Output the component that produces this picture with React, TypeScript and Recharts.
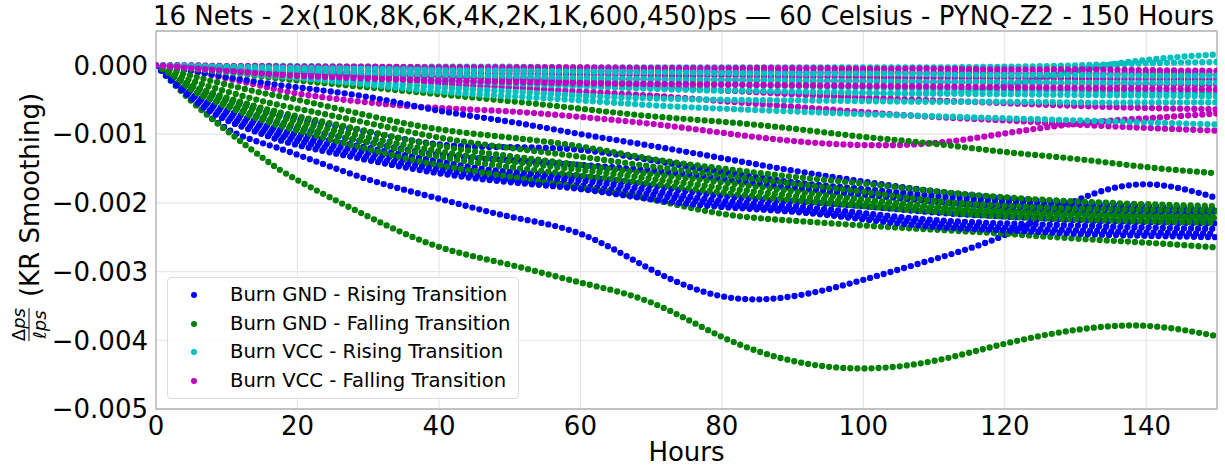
import { LineChart, Line, XAxis, YAxis, CartesianGrid, ReferenceArea } from 'recharts'

// sample hours, values below are in units of 1e-3 (Δps / ℓps)
const HOURS = [0, 5, 10, 15, 20, 30, 40, 50, 60, 70, 80, 90, 100, 110, 120, 130, 140, 150]

const GND_RISE = [
  [0, -0.5, -0.92, -1.13, -1.3, -1.66, -1.94, -2.2, -2.45, -2.97, -3.36, -3.36, -3.12, -2.82, -2.47, -1.97, -1.73, -1.93],
  [0, -0.08, -0.17, -0.25, -0.32, -0.46, -0.66, -0.82, -1.0, -1.17, -1.35, -1.53, -1.69, -1.83, -1.93, -2.0, -2.05, -2.1],
  [0, -0.3, -0.5, -0.66, -0.78, -0.97, -1.15, -1.19, -1.23, -1.38, -1.55, -1.7, -1.8, -1.9, -1.98, -2.05, -2.1, -2.13],
  [0, -0.35, -0.58, -0.77, -0.92, -1.12, -1.3, -1.38, -1.45, -1.53, -1.65, -1.78, -1.88, -1.98, -2.06, -2.13, -2.18, -2.2],
  [0, -0.4, -0.65, -0.85, -1.0, -1.2, -1.4, -1.55, -1.62, -1.75, -1.9, -1.98, -2.05, -2.14, -2.2, -2.25, -2.28, -2.3],
  [0, -0.42, -0.7, -0.9, -1.05, -1.27, -1.46, -1.6, -1.68, -1.82, -1.97, -2.05, -2.15, -2.25, -2.3, -2.33, -2.36, -2.38],
  [0, -0.45, -0.75, -0.95, -1.1, -1.33, -1.52, -1.66, -1.75, -1.88, -2.02, -2.1, -2.2, -2.3, -2.36, -2.4, -2.43, -2.45],
  [0, -0.48, -0.8, -1.0, -1.16, -1.38, -1.57, -1.7, -1.8, -1.95, -2.06, -2.13, -2.24, -2.35, -2.4, -2.45, -2.48, -2.5],
]

const GND_FALL = [
  [0, -0.52, -0.95, -1.34, -1.67, -2.2, -2.64, -2.9, -3.16, -3.45, -3.95, -4.3, -4.41, -4.3, -4.05, -3.85, -3.79, -3.94],
  [0, -0.05, -0.1, -0.16, -0.22, -0.32, -0.42, -0.52, -0.63, -0.74, -0.82, -0.92, -1.04, -1.14, -1.26, -1.36, -1.48, -1.57],
  [0, -0.15, -0.28, -0.4, -0.5, -0.73, -0.93, -1.05, -1.18, -1.36, -1.5, -1.62, -1.72, -1.83, -1.92, -1.98, -2.02, -2.05],
  [0, -0.22, -0.38, -0.52, -0.63, -0.84, -1.05, -1.2, -1.33, -1.47, -1.6, -1.72, -1.84, -1.97, -2.04, -2.08, -2.1, -2.12],
  [0, -0.28, -0.47, -0.62, -0.74, -0.96, -1.17, -1.32, -1.45, -1.58, -1.7, -1.83, -1.95, -2.05, -2.12, -2.16, -2.19, -2.22],
  [0, -0.33, -0.56, -0.74, -0.88, -1.12, -1.33, -1.48, -1.6, -1.72, -1.85, -1.96, -2.05, -2.13, -2.2, -2.24, -2.27, -2.29],
  [0, -0.36, -0.6, -0.8, -0.95, -1.22, -1.45, -1.62, -1.78, -1.95, -2.16, -2.26, -2.33, -2.39, -2.45, -2.52, -2.58, -2.65],
  [0, -0.3, -0.52, -0.68, -0.82, -1.05, -1.25, -1.4, -1.52, -1.65, -1.78, -1.9, -2.0, -2.08, -2.14, -2.18, -2.2, -2.2],
]

const VCC_RISE = [
  [0, 0, -0.01, -0.01, -0.01, -0.02, -0.02, -0.02, -0.03, -0.03, -0.03, -0.03, -0.03, -0.03, -0.02, 0.0, 0.03, 0.05],
  [0, -0.03, -0.06, -0.09, -0.12, -0.17, -0.22, -0.26, -0.3, -0.34, -0.37, -0.39, -0.4, -0.41, -0.3, -0.08, 0.08, 0.16],
  [0, -0.02, -0.04, -0.07, -0.09, -0.13, -0.17, -0.2, -0.23, -0.26, -0.28, -0.3, -0.32, -0.34, -0.36, -0.37, -0.39, -0.4],
  [0, -0.03, -0.06, -0.09, -0.12, -0.17, -0.22, -0.26, -0.3, -0.33, -0.36, -0.38, -0.4, -0.41, -0.42, -0.43, -0.44, -0.45],
  [0, -0.04, -0.08, -0.12, -0.16, -0.24, -0.32, -0.38, -0.44, -0.48, -0.5, -0.51, -0.52, -0.53, -0.53, -0.54, -0.54, -0.54],
  [0, -0.04, -0.09, -0.14, -0.18, -0.28, -0.38, -0.45, -0.51, -0.58, -0.63, -0.67, -0.71, -0.74, -0.77, -0.8, -0.83, -0.86],
  [0, -0.01, -0.02, -0.03, -0.04, -0.05, -0.07, -0.08, -0.09, -0.1, -0.11, -0.12, -0.12, -0.13, -0.14, -0.14, -0.15, -0.15],
  [0, -0.02, -0.04, -0.06, -0.08, -0.11, -0.14, -0.16, -0.18, -0.2, -0.21, -0.22, -0.23, -0.24, -0.24, -0.25, -0.25, -0.25],
]

const VCC_FALL = [
  [0, -0.08, -0.19, -0.3, -0.41, -0.54, -0.62, -0.67, -0.75, -0.85, -0.98, -1.1, -1.16, -1.13, -0.99, -0.85, -0.77, -0.7],
  [0, -0.02, -0.05, -0.08, -0.11, -0.17, -0.26, -0.32, -0.38, -0.44, -0.52, -0.6, -0.68, -0.75, -0.8, -0.86, -0.91, -0.95],
  [0, -0.02, -0.04, -0.06, -0.08, -0.12, -0.16, -0.2, -0.25, -0.3, -0.36, -0.42, -0.47, -0.51, -0.55, -0.59, -0.62, -0.64],
  [0, 0, -0.01, -0.01, -0.02, -0.02, -0.03, -0.03, -0.03, -0.04, -0.04, -0.04, -0.05, -0.05, -0.06, -0.06, -0.07, -0.08],
  [0, -0.01, -0.02, -0.03, -0.04, -0.05, -0.06, -0.07, -0.08, -0.08, -0.09, -0.1, -0.1, -0.11, -0.11, -0.12, -0.12, -0.13],
  [0, -0.02, -0.04, -0.06, -0.07, -0.09, -0.11, -0.12, -0.13, -0.14, -0.15, -0.16, -0.17, -0.18, -0.18, -0.19, -0.2, -0.2],
  [0, -0.03, -0.06, -0.09, -0.11, -0.14, -0.16, -0.18, -0.19, -0.2, -0.21, -0.22, -0.23, -0.24, -0.25, -0.26, -0.27, -0.28],
  [0, -0.04, -0.08, -0.12, -0.15, -0.19, -0.22, -0.24, -0.26, -0.27, -0.28, -0.29, -0.3, -0.31, -0.32, -0.33, -0.34, -0.35],
]

const X_TICKS = [0, 20, 40, 60, 80, 100, 120, 140]
const Y_TICKS = [0, -0.001, -0.002, -0.003, -0.004, -0.005]

const GROUPS = [
  { key: 'gr', label: 'Burn GND - Rising Transition', color: '#0000ff', values: GND_RISE },
  { key: 'gf', label: 'Burn GND - Falling Transition', color: '#008000', values: GND_FALL },
  { key: 'vr', label: 'Burn VCC - Rising Transition', color: '#00bfbf', values: VCC_RISE },
  { key: 'vf', label: 'Burn VCC - Falling Transition', color: '#bf00bf', values: VCC_FALL },
]

const rows = HOURS.map((h, i) => {
  const row: Record<string, number> = { h }
  GROUPS.forEach((g) => g.values.forEach((s, n) => (row[`${g.key}${n}`] = s[i] * 1e-3)))
  return row
})

// interleave per net, like the original plotting loop
const series: { id: string; color: string }[] = []
for (let n = 0; n < 8; n++) GROUPS.forEach((g) => series.push({ id: `${g.key}${n}`, color: g.color }))

const FONT = '"DejaVu Sans", sans-serif'
const tickStyle = { fontSize: 26, fill: '#000', fontFamily: FONT }

function fmtY(v: number) {
  if (Math.abs(v) < 1e-9) return '0.000'
  return (v < 0 ? '\u2212' : '') + Math.abs(v).toFixed(3)
}

export default function App() {
  return (
    <div style={{ position: 'absolute', left: 0, top: 0, width: 1225, height: 465, fontFamily: FONT, background: '#fff' }}>
      <div style={{ position: 'absolute', left: -3, top: 1, width: 1373, textAlign: 'center', fontSize: 26, lineHeight: '30px', whiteSpace: 'nowrap' }}>
        16 Nets - 2x(10K,8K,6K,4K,2K,1K,600,450)ps — 60 Celsius - PYNQ-Z2 - 150 Hours
      </div>

      <LineChart width={1225} height={465} data={rows} margin={{ top: 31, right: 8, bottom: 0, left: 0 }}>
        <CartesianGrid stroke="#e6e6e6" strokeWidth={1.2} />
        <XAxis
          dataKey="h"
          type="number"
          domain={[0, 150]}
          ticks={X_TICKS}
          tick={tickStyle}
          tickLine={false}
          axisLine={false}
          height={56}
          allowDataOverflow
        />
        <YAxis
          type="number"
          domain={[-0.005, 0.0005]}
          ticks={Y_TICKS}
          tickFormatter={fmtY}
          tick={tickStyle}
          tickLine={false}
          axisLine={false}
          width={156}
          allowDataOverflow
        />
        {series.map((s) => (
          <Line
            key={s.id}
            dataKey={s.id}
            type="natural"
            stroke={s.color}
            strokeWidth={6.3}
            strokeLinecap="round"
            strokeDasharray="0 7.07"
            dot={false}
            activeDot={false}
            isAnimationActive={false}
          />
        ))}
        <ReferenceArea x1={0} x2={150} y1={-0.005} y2={0.0005} fill="none" stroke="#b3b3b3" strokeWidth={1.3} />
      </LineChart>

      {/* y label: fraction + (KR Smoothing), rotated */}
      <div
        style={{
          position: 'absolute',
          left: 29,
          top: 217,
          transform: 'translate(-50%, -50%) rotate(-90deg)',
          display: 'flex',
          alignItems: 'center',
          whiteSpace: 'nowrap',
        }}
      >
        <span style={{ display: 'inline-flex', flexDirection: 'column', alignItems: 'center', fontSize: 18, lineHeight: '18px' }}>
          <span>Δ<i>ps</i></span>
          <span style={{ borderTop: '1.2px solid #000', width: '100%', margin: '1px 0' }} />
          <span>ℓ<i>ps</i></span>
        </span>
        <span style={{ fontSize: 26, marginLeft: 11 }}>(KR Smoothing)</span>
      </div>

      <div style={{ position: 'absolute', left: 0, top: 440, width: 1373, textAlign: 'center', fontSize: 26, lineHeight: '24px' }}>
        Hours
      </div>

      {/* legend */}
      <div
        style={{
          position: 'absolute',
          left: 167,
          top: 277,
          width: 352,
          height: 122,
          boxSizing: 'border-box',
          border: '1px solid #dcdcdc',
          borderRadius: 4,
          background: 'rgba(255,255,255,0.8)',
        }}
      >
        {GROUPS.map((g, i) => (
          <div key={g.key} style={{ position: 'absolute', left: 0, top: 3 + i * 28.7, height: 28, width: '100%' }}>
            <span
              style={{
                position: 'absolute',
                left: 23,
                top: 11,
                width: 6,
                height: 6,
                borderRadius: 3,
                background: g.color,
              }}
            />
            <span style={{ position: 'absolute', left: 62, top: 0, fontSize: 19.6, lineHeight: '28px', color: '#000' }}>{g.label}</span>
          </div>
        ))}
      </div>
    </div>
  )
}
